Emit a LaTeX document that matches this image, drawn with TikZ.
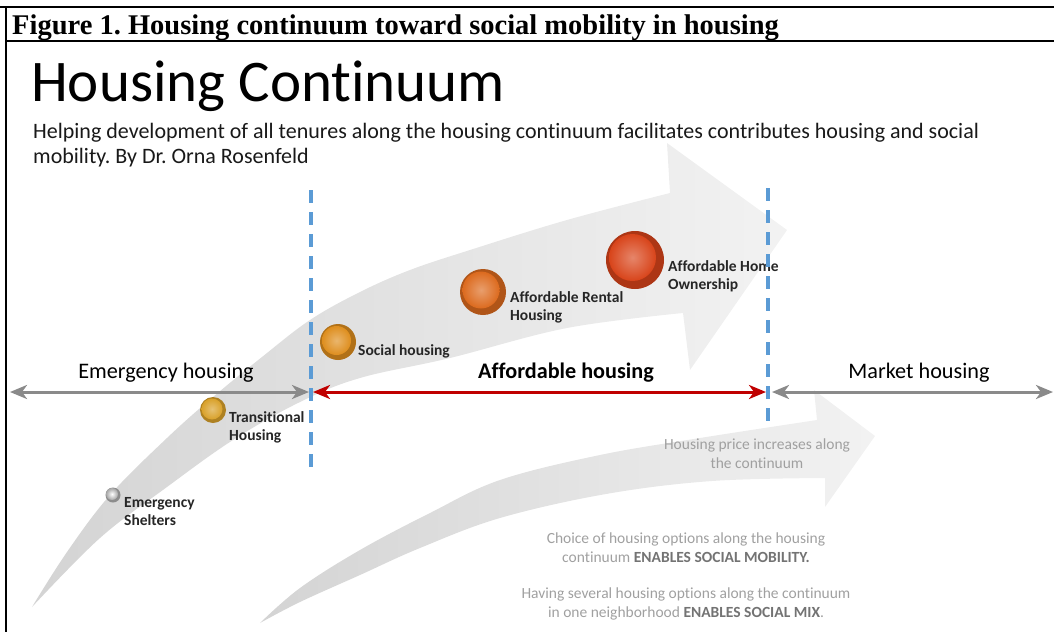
\documentclass[tikz,border=0pt]{standalone}
\usepackage{fontspec}
\setmainfont{Carlito}[Ligatures=NoCommon]
\newfontfamily\capfont{Liberation Serif}
\usetikzlibrary{arrows.meta}
\frenchspacing

\definecolor{axisgray}{HTML}{8A8A8A}
\definecolor{afred}{HTML}{C00000}
\definecolor{divblue}{HTML}{5B9BD5}
\definecolor{notegray}{HTML}{A0A0A0}
\definecolor{notedark}{HTML}{737373}
\definecolor{ballgold}{HTML}{D9A12A}
\definecolor{ballsocial}{HTML}{DE8E1E}
\definecolor{ballrent}{HTML}{DC6A1E}
\definecolor{ballhome}{HTML}{D8441A}

\tikzset{
  bodyshade/.style={left color=black!17, right color=black!5},
  divider/.style={divblue, line width=3.3pt, dash pattern=on 13pt off 9pt},
  axisline/.style={line width=3pt, {Stealth[length=17pt,width=14pt,inset=5pt]}-{Stealth[length=17pt,width=14pt,inset=5pt]}},
  tenure/.style={anchor=base west, align=left, inner sep=0pt, text=black!85, font=\bfseries\fontsize{15.5}{17.5}\selectfont},
  band/.style={anchor=base, inner sep=0pt, font=\fontsize{22.2}{26}\selectfont},
  note/.style={notegray, anchor=base, align=center, inner sep=0pt, font=\fontsize{15.5}{19}\selectfont},
}

\begin{document}
\begin{tikzpicture}[x=1pt,y=-1pt]
\useasboundingbox (0,0) rectangle (1054,632);

\draw [line width=2pt] (0,7) -- (1054,7);
\draw [line width=2pt] (6,6) -- (6,632);
\draw [line width=1.5pt] (6,41) -- (1054,41);
\node (caption) at (12,34) [anchor=base west, inner sep=0pt] {\capfont\bfseries\fontsize{28.5}{30}\selectfont Figure 1. Housing continuum toward social mobility in housing};

\node (title) at (31,101) [anchor=base west, inner sep=0pt] {\fontsize{59}{64}\selectfont Housing Continuum};
\node (intro) at (33,163) [anchor=base west, align=left, inner sep=0pt, text=black!90, font=\fontsize{22}{24.5}\selectfont] {Helping development of all tenures along the housing continuum facilitates contributes housing and social\\ mobility. By Dr. Orna Rosenfeld};

\shade [bodyshade] plot [smooth, tension=0.6] coordinates {(32,607) (67,552) (110,495) (167,438) (213,397) (262,357) (310,320) (360,292) (410,270) (470,250) (567,220) (670,193)}
-- (667,143) -- (787,230) -- (690,370) --
plot [smooth, tension=0.6] coordinates {(683,313) (567,328) (450,358) (360,378) (300,402) (233,440) (167,487) (100,538) (32,607)} -- cycle;

\shade [bodyshade] plot [smooth, tension=0.6] coordinates {(260,623) (300,588) (360,550) (430,513) (500,480) (600,455) (700,438) (817,420)}
-- (814,390) -- (875,436) -- (825,507) --
plot [smooth, tension=0.6] coordinates {(825,478) (712,481) (606,494) (500,518) (420,548) (360,575) (300,602) (260,623)} -- cycle;

\coordinate (axL) at (10,392);
\coordinate (divL) at (311,392);
\coordinate (divR) at (768,392);
\coordinate (axR) at (1053,392);

\draw [axisline, axisgray] (axL) -- ([xshift=-2pt]divL);
\draw [axisline, afred] ([xshift=2pt]divL) -- ([xshift=-2pt]divR);
\draw [axisline, axisgray] ([xshift=4pt]divR) -- (axR);

\node (emerg) at (166,378) [band] {Emergency housing};
\node (afford) at (566,378) [band] {\bfseries Affordable housing};
\node (market) at (919,378) [band] {Market housing};

\fill [black!45] (113,495) circle [radius=7.5];
\shade [inner color=white, outer color=black!35] (112,494) circle [radius=6];
\fill [ballgold!80!black] (213,410) circle [radius=13];
\shade [inner color=ballgold!65!white, outer color=ballgold] (212,409) circle [radius=10.5];
\fill [ballsocial!80!black] (338,342) circle [radius=18];
\shade [inner color=ballsocial!65!white, outer color=ballsocial] (336.5,340.5) circle [radius=14.5];
\fill [ballrent!80!black] (483,292) circle [radius=23];
\shade [inner color=ballrent!65!white, outer color=ballrent] (481,290) circle [radius=18.5];
\fill [ballhome!80!black] (635,260) circle [radius=29];
\shade [inner color=ballhome!65!white, outer color=ballhome] (632.5,257.5) circle [radius=23.5];

\node (shelter) at (124,525) [tenure] {Emergency\\ Shelters};
\node (transit) at (229,440) [tenure] {Transitional\\ Housing};
\node (social) at (358,355) [tenure] {Social housing};
\node (rental) at (510,320) [tenure] {Affordable Rental\\ Housing};
\node (owner) at (668,289) [tenure] {Affordable Home\\ Ownership};

\draw [divider] (311,190) -- (divL) -- (311,470);
\draw [divider] (768,188) -- (divR) -- (768,426);

\node (price) at (757,468) [note] {Housing price increases along\\ the continuum};
\node (choice) at (686,562) [note] {Choice of housing options along the housing\\ continuum \textcolor{notedark}{\bfseries ENABLES SOCIAL MOBILITY.}};
\node (mix) at (686,617) [note] {Having several housing options along the continuum\\ in one neighborhood \textcolor{notedark}{\bfseries ENABLES SOCIAL MIX}.};

\end{tikzpicture}
\end{document}
